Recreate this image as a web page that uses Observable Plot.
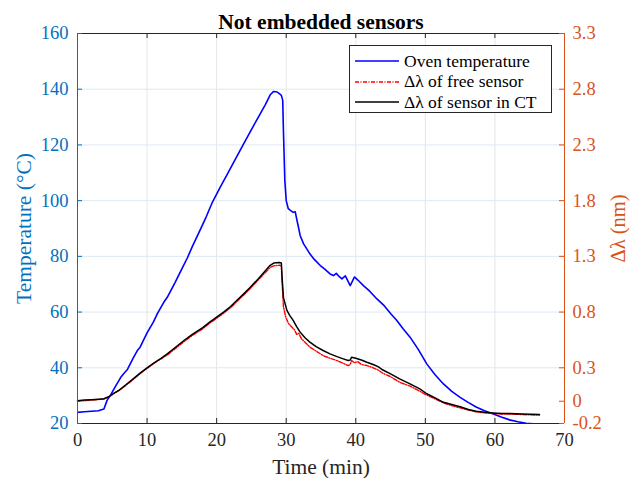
<!DOCTYPE html>
<html>
<head>
<meta charset="utf-8">
<script src="https://cdn.jsdelivr.net/npm/d3@7"></script>
<script src="https://cdn.jsdelivr.net/npm/@observablehq/plot@0.6"></script>
<style>
  html, body { margin: 0; padding: 0; background: #fff; }
  #wrap { position: relative; width: 631px; height: 478px; }
  #legend { position: absolute; left: 349px; top: 45px; width: 201px; height: 66px;
    border: 1px solid #262626; background: #fff; font-family: "Liberation Serif", serif; font-size: 17.5px; color: #000; }
  #legend .row { position: absolute; left: 0; height: 20px; display: flex; align-items: center; }
  #legend svg { margin-left: 5px; margin-right: 5px; }
</style>
</head>
<body>
<div id="wrap"></div>
<script>
// ---- data ----
const titleText = "Not embedded sensors";
const xLabel = "Time (min)";
const yLabelLeft = "Temperature (°C)";
const yLabelRight = "Δλ (nm)";
const seriesNames = ["Oven temperature", "Δλ of free sensor", "Δλ of sensor in CT"];
const xTicks = [0, 10, 20, 30, 40, 50, 60, 70];
const yTicks = [20, 40, 60, 80, 100, 120, 140, 160];
const dlTicks = [-0.2, 0, 0.3, 0.8, 1.3, 1.8, 2.3, 2.8, 3.3];

// Oven temperature [time (min), °C]
const oven = [
  [0,24.0],[1,24.2],[2,24.4],[3,24.6],[3.8,25.2],[4.25,28.3],[4.7,30.0],[5.5,33.5],[6.2,36.5],[6.6,37.8],[7.2,39.5],
  [8.0,43.5],[8.6,46.2],[9.0,47.4],[10.0,52.5],[10.9,56.4],[11.5,59.5],[12.4,63.5],[12.9,65.3],[14.0,70.5],
  [15.0,75.5],[15.8,79.5],[16.5,83.5],[17.5,88.8],[18.5,94.2],[19.4,99.5],[20.5,104.8],[21.5,109.3],[22.5,114],
  [23.8,120],[25.0,125.5],[26.0,130],[27.0,134.5],[27.7,138],[28.2,139.2],[28.7,139.0],
  [29.1,138.2],[29.3,137.8],[29.5,136],[29.6,125],[29.8,107.2],[30.0,100],[30.3,97.1],[30.6,96.5],
  [31.0,95.8],[31.3,96],[31.5,93.5],[31.8,90],[32.0,87.5],[32.5,84.5],[33.0,82.5],[33.4,80.9],[34.0,79],
  [34.9,76.7],[35.5,75.5],[36.3,73.7],[36.8,73.1],[37.2,73.9],[37.6,72.8],[38.0,71.9],[38.5,73],[39.0,70.5],
  [39.2,69.5],[39.5,71],[39.8,72.6],[40.3,71.5],[41.1,69.5],[42.0,67.5],[43.0,64.8],[44.0,62.5],[45.0,59.5],
  [45.9,57],[46.8,54],[47.8,51],[49.0,46.5],[50.2,41.4],[51.4,37.5],[52.6,34.2],[53.8,31.5],[55.0,29.4],
  [56.2,27.5],[57.3,25.9],[58.5,24.6],[59.7,23.5],[60.9,22.3],[62.1,21.3],[63.3,20.6],[64.5,20.1],[65.5,19.9],[66.5,19.8]
];

// Δλ of free sensor [time (min), nm]
const freeSensor = [
  [0,0.0],[1,0.005],[2,0.01],[3,0.015],[3.8,0.02],[4.5,0.04],[5.2,0.068],[6,0.097],[7,0.145],[8,0.195],
  [9,0.248],[10,0.295],[11,0.34],[12,0.38],[12.9,0.415],[14,0.47],[15.3,0.535],[16.5,0.59],[18,0.65],
  [19,0.7],[20,0.745],[21,0.79],[22,0.84],[23,0.9],[24,0.96],[24.8,1.01],[26,1.09],[27,1.155],[27.7,1.2],
  [28.2,1.215],[29.0,1.22],[29.3,1.215],[29.4,1.08],[29.6,0.85],[29.9,0.76],[30.3,0.7],[30.6,0.68],
  [30.9,0.66],[31.2,0.64],[31.5,0.6],[31.8,0.61],[32.2,0.56],[32.7,0.53],[33.4,0.485],[34.3,0.45],
  [35.3,0.41],[36.3,0.385],[37.3,0.365],[38.2,0.34],[38.9,0.32],[39.2,0.33],[39.4,0.365],[39.8,0.345],
  [40.3,0.355],[40.8,0.33],[41.6,0.32],[42.5,0.3],[43.2,0.28],[43.9,0.25],[45,0.22],[46.3,0.17],
  [47.8,0.135],[49.2,0.09],[50.2,0.055],[51.4,0.02],[52.6,-0.015],[53.8,-0.04],[55,-0.06],[56.2,-0.08],
  [57.3,-0.095],[58.5,-0.105],[59.7,-0.11],[61,-0.115],[62.1,-0.115],[64,-0.12],[66.4,-0.125]
];

// Δλ of sensor in CT [time (min), nm]
const ctSensor = [
  [0,0.005],[1,0.01],[2,0.014],[3,0.018],[3.8,0.022],[4.5,0.04],[5.2,0.07],[6,0.1],[7,0.15],[8,0.2],
  [9,0.252],[10,0.3],[11,0.345],[12,0.385],[12.9,0.425],[14,0.48],[15.3,0.545],[16.5,0.6],[18,0.66],
  [19,0.71],[20,0.755],[21,0.8],[22,0.85],[23,0.91],[24,0.97],[24.8,1.02],[26,1.1],[27,1.17],[27.7,1.22],
  [28.2,1.24],[29.0,1.245],[29.3,1.24],[29.4,1.12],[29.6,0.93],[30.1,0.815],[30.5,0.77],[31,0.725],
  [31.5,0.67],[32,0.62],[32.7,0.57],[33.4,0.53],[34.3,0.49],[35.3,0.455],[36.3,0.425],[37.3,0.4],
  [38.2,0.38],[38.9,0.365],[39.2,0.37],[39.4,0.395],[40,0.385],[40.8,0.37],[41.6,0.35],[42.5,0.33],
  [43.2,0.31],[43.9,0.28],[45,0.245],[46.3,0.2],[47.8,0.155],[49.2,0.11],[50.2,0.067],[51.4,0.03],
  [52.6,-0.01],[53.8,-0.03],[55,-0.05],[56.2,-0.075],[57.3,-0.09],[58.5,-0.1],[59.7,-0.105],[61,-0.11],
  [62.1,-0.11],[64,-0.115],[66.4,-0.12]
];

// ---- styling ----
const blueAxis = "#0072BD";
const orangeAxis = "#D95319";
const colors = ["#0000FF", "#FF0000", "#000000"];
const W = 631, H = 478, mL = 77, mR = 67, mT = 33, mB = 55;
const plotW = W - mL - mR, plotH = H - mT - mB;
const tickLen = 5;

// right axis (Δλ) shares the temperature scale: T = (Δλ + 0.2)/0.025 + 20
const toT = d => (d + 0.2) / 0.025 + 20;
const fromT = t => Math.round(((t - 20) * 0.025 - 0.2) * 10) / 10;

const chart = Plot.plot({
  width: W, height: H,
  marginLeft: mL, marginRight: mR, marginTop: mT, marginBottom: mB,
  x: {domain: [0, 70]},
  y: {domain: [20, 160]},
  style: {fontFamily: "'Liberation Serif', serif", fontSize: "18px", background: "#fff"},
  marks: [
    Plot.gridX(xTicks.slice(1, -1), {stroke: "#e4e6e8", strokeOpacity: 1}),
    Plot.gridY(yTicks.slice(1, -1), {stroke: "#dce9f4", strokeOpacity: 1}),
    Plot.line(oven, {x: d => d[0], y: d => d[1], stroke: colors[0], strokeWidth: 1.6, clip: true}),
    Plot.line(freeSensor, {x: d => d[0], y: d => toT(d[1]), stroke: colors[1], strokeWidth: 1.4, strokeDasharray: "4,1.5,1,1.5"}),
    Plot.line(ctSensor, {x: d => d[0], y: d => toT(d[1]), stroke: colors[2], strokeWidth: 1.5}),
    // box
    Plot.ruleY([20], {stroke: "#262626"}),
    Plot.ruleY([160], {stroke: "#262626"}),
    Plot.ruleX([0], {stroke: blueAxis}),
    Plot.ruleX([70], {stroke: orangeAxis}),
    // inward ticks
    Plot.tickX(xTicks.slice(1, -1), {x: d => d, insetTop: plotH - tickLen, stroke: "#262626"}),
    Plot.tickX(xTicks.slice(1, -1), {x: d => d, insetBottom: plotH - tickLen, stroke: "#262626"}),
    Plot.tickY(yTicks, {y: d => d, insetRight: plotW - tickLen, stroke: blueAxis}),
    Plot.tickY(dlTicks.map(toT), {y: d => d, insetLeft: plotW - tickLen, stroke: orangeAxis}),
    // axes labels
    Plot.axisX({ticks: xTicks, tickSize: 0, tickPadding: 9, label: null, color: "#262626", fontSize: 18.5}),
    Plot.axisY({ticks: yTicks, tickSize: 0, tickPadding: 9, label: null, color: blueAxis, fontSize: 18.5}),
    Plot.axisY({anchor: "right", ticks: dlTicks.map(toT), tickSize: 0, tickPadding: 8, label: null,
      tickFormat: t => String(fromT(t)), color: orangeAxis, fontSize: 18.5}),
    // titles
    Plot.text([titleText], {text: d => d, frameAnchor: "top", lineAnchor: "bottom", dy: -5,
      fontWeight: "bold", fontSize: 21.5, fill: "#000"}),
    Plot.text([xLabel], {text: d => d, frameAnchor: "bottom", lineAnchor: "bottom", dy: 50, fontSize: 21.5, fill: "#262626"}),
    Plot.text([yLabelLeft], {text: d => d, frameAnchor: "left", textAnchor: "middle", rotate: -90, dx: -53,
      lineAnchor: "middle", fontSize: 21.5, fill: blueAxis}),
    Plot.text([yLabelRight], {text: d => d, frameAnchor: "right", textAnchor: "middle", rotate: -90, dx: 54,
      lineAnchor: "middle", fontSize: 20.5, fill: orangeAxis})
  ]
});

const wrap = document.getElementById("wrap");
wrap.appendChild(chart);

// legend
const legend = document.createElement("div");
legend.id = "legend";
const dashes = [null, "4,1.5,1,1.5", null];
seriesNames.forEach((name, i) => {
  const row = document.createElement("div");
  row.className = "row";
  row.style.top = (5 + i * 20.5) + "px";
  const svg = d3.create("svg").attr("width", 44).attr("height", 10);
  svg.append("line").attr("x1", 0).attr("x2", 44).attr("y1", 5).attr("y2", 5)
    .attr("stroke", colors[i]).attr("stroke-width", 1.5)
    .attr("stroke-dasharray", dashes[i]);
  row.appendChild(svg.node());
  const span = document.createElement("span");
  span.textContent = name;
  row.appendChild(span);
  legend.appendChild(row);
});
wrap.appendChild(legend);
</script>
</body>
</html>
